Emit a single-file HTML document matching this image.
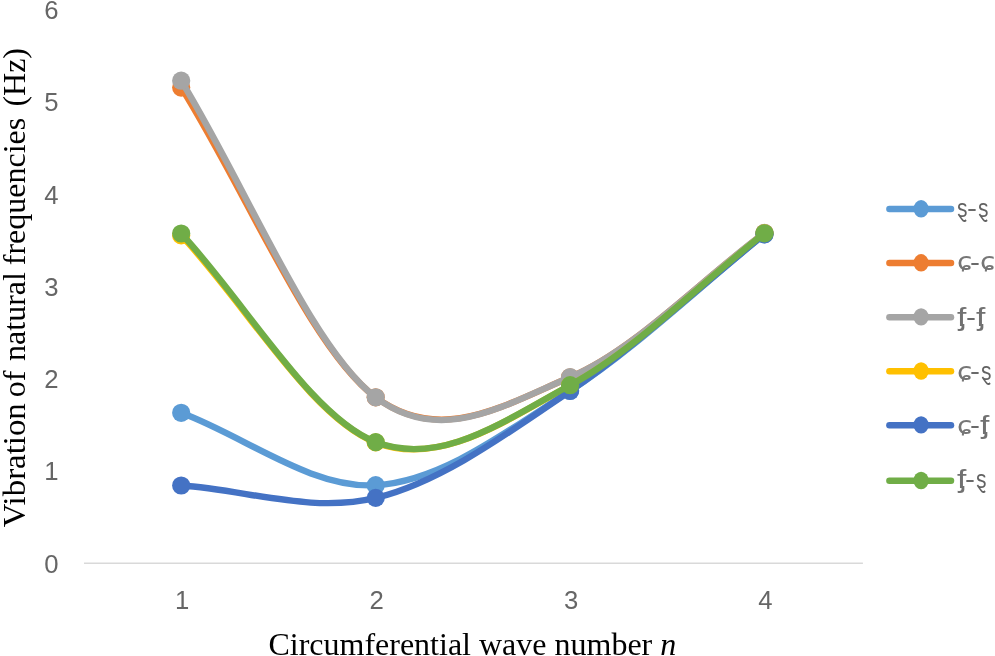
<!DOCTYPE html>
<html lang="en"><head><meta charset="utf-8"><title>Vibration of natural frequencies</title>
<style>
html,body{margin:0;padding:0;background:#fff;}
body{width:995px;height:656px;overflow:hidden;position:relative;}
svg{display:block;}
.ax{font-family:"Liberation Sans",sans-serif;font-size:25.7px;fill:#666;}
.lgd{position:absolute;left:0;top:0;white-space:nowrap;color:#6a6a6a;}
.lgd span{position:absolute;display:block;line-height:0;transform-origin:0 0;}
.lgd .ls{font-family:"Liberation Sans",sans-serif;font-size:25.5px;}
.lgd .f{color:#717171;}
.lgd .s{color:#626262;}
.lgd .dv{font-family:"DejaVu Sans","Liberation Sans",sans-serif;font-size:25px;color:#767676;}
.tt{font-family:"Liberation Serif",serif;font-size:32px;fill:#000;}
</style></head><body>
<svg width="995" height="656" viewBox="0 0 995 656">
<rect width="995" height="656" fill="#fff"/>
<line x1="84" y1="563.3" x2="862.9" y2="563.3" stroke="#D9D9D9" stroke-width="1.6"/>
<text class="ax" x="51.3" y="572.6" text-anchor="middle">0</text>
<text class="ax" x="51.3" y="480.3" text-anchor="middle">1</text>
<text class="ax" x="51.3" y="388.1" text-anchor="middle">2</text>
<text class="ax" x="51.3" y="295.8" text-anchor="middle">3</text>
<text class="ax" x="51.3" y="203.5" text-anchor="middle">4</text>
<text class="ax" x="51.3" y="111.3" text-anchor="middle">5</text>
<text class="ax" x="51.3" y="19.0" text-anchor="middle">6</text>
<text class="ax" x="182.2" y="609.1" text-anchor="middle">1</text>
<text class="ax" x="376.7" y="609.1" text-anchor="middle">2</text>
<text class="ax" x="571.1" y="609.1" text-anchor="middle">3</text>
<text class="ax" x="765.5" y="609.1" text-anchor="middle">4</text>
<text class="tt" transform="translate(25.3 527.2) rotate(-90)" y="0"><tspan x="0.0" textLength="124" lengthAdjust="spacingAndGlyphs">Vibration</tspan> <tspan x="130.0">of</tspan> <tspan x="166.3">natural</tspan> <tspan x="262.0">frequencies</tspan> <tspan x="420.6">(Hz)</tspan></text>
<text class="tt" x="268.4" y="655">Circumferential wave number <tspan font-style="italic">n</tspan></text>
<g fill="#5B9BD5" stroke="none"><path d="M181.20 412.80 C246.03 436.93 310.88 488.87 375.70 485.20 C440.52 481.53 505.30 432.62 570.10 390.80 C634.90 348.98 699.70 286.47 764.50 234.30" fill="none" stroke="#5B9BD5" stroke-width="6.4" stroke-linecap="round" stroke-linejoin="round"/><circle cx="181.2" cy="412.8" r="9.1"/><circle cx="375.7" cy="485.2" r="9.1"/><circle cx="570.1" cy="390.8" r="9.1"/><circle cx="764.5" cy="234.3" r="9.1"/></g>
<g fill="#ED7D31" stroke="none"><path d="M181.20 87.60 C246.03 190.83 310.88 349.02 375.70 397.30 C440.52 445.58 505.30 404.68 570.10 377.30 C634.90 349.92 699.70 281.10 764.50 233.00" fill="none" stroke="#ED7D31" stroke-width="6.4" stroke-linecap="round" stroke-linejoin="round"/><circle cx="181.2" cy="87.6" r="9.1"/><circle cx="375.7" cy="397.3" r="9.1"/><circle cx="570.1" cy="377.3" r="9.1"/><circle cx="764.5" cy="233.0" r="9.1"/></g>
<g fill="#A5A5A5" stroke="none"><path d="M181.20 80.70 C246.03 186.23 310.88 347.88 375.70 397.30 C440.52 446.72 505.30 404.60 570.10 377.20 C634.90 349.80 699.70 281.00 764.50 232.90" fill="none" stroke="#A5A5A5" stroke-width="6.4" stroke-linecap="round" stroke-linejoin="round"/><circle cx="181.2" cy="80.7" r="9.1"/><circle cx="375.7" cy="397.3" r="9.1"/><circle cx="570.1" cy="377.2" r="9.1"/><circle cx="764.5" cy="232.9" r="9.1"/></g>
<g fill="#FFC000" stroke="none"><path d="M181.20 235.40 C246.03 304.40 310.88 417.38 375.70 442.40 C440.52 467.42 505.30 420.33 570.10 385.50 C634.90 350.67 699.70 284.10 764.50 233.40" fill="none" stroke="#FFC000" stroke-width="6.4" stroke-linecap="round" stroke-linejoin="round"/><circle cx="181.2" cy="235.4" r="9.1"/><circle cx="375.7" cy="442.4" r="9.1"/><circle cx="570.1" cy="385.5" r="9.1"/><circle cx="764.5" cy="233.4" r="9.1"/></g>
<g fill="#4472C4" stroke="none"><path d="M181.20 485.50 C246.03 489.63 310.88 513.65 375.70 497.90 C440.52 482.15 505.30 434.93 570.10 391.00 C634.90 347.07 699.70 286.53 764.50 234.30" fill="none" stroke="#4472C4" stroke-width="6.4" stroke-linecap="round" stroke-linejoin="round"/><circle cx="181.2" cy="485.5" r="9.1"/><circle cx="375.7" cy="497.9" r="9.1"/><circle cx="570.1" cy="391.0" r="9.1"/><circle cx="764.5" cy="234.3" r="9.1"/></g>
<g fill="#70AD47" stroke="none"><path d="M181.20 233.50 C246.03 303.03 310.88 416.82 375.70 442.10 C440.52 467.38 505.30 420.00 570.10 385.20 C634.90 350.40 699.70 283.93 764.50 233.30" fill="none" stroke="#70AD47" stroke-width="6.4" stroke-linecap="round" stroke-linejoin="round"/><circle cx="181.2" cy="233.5" r="9.1"/><circle cx="375.7" cy="442.1" r="9.1"/><circle cx="570.1" cy="385.2" r="9.1"/><circle cx="764.5" cy="233.3" r="9.1"/></g>
<g fill="#5B9BD5"><line x1="889.4" y1="209.1" x2="951" y2="209.1" stroke="#5B9BD5" stroke-width="6.5" stroke-linecap="round"/><ellipse cx="921.1" cy="208.8" rx="7.6" ry="8.7"/></g><g fill="#ED7D31"><line x1="889.4" y1="263.1" x2="951" y2="263.1" stroke="#ED7D31" stroke-width="6.5" stroke-linecap="round"/><ellipse cx="921.1" cy="262.8" rx="7.6" ry="8.7"/></g><g fill="#A5A5A5"><line x1="889.4" y1="317.2" x2="951" y2="317.2" stroke="#A5A5A5" stroke-width="6.5" stroke-linecap="round"/><ellipse cx="921.1" cy="316.9" rx="7.6" ry="8.7"/></g><g fill="#FFC000"><line x1="889.4" y1="371.3" x2="951" y2="371.3" stroke="#FFC000" stroke-width="6.5" stroke-linecap="round"/><ellipse cx="921.1" cy="371.0" rx="7.6" ry="8.7"/></g><g fill="#4472C4"><line x1="889.4" y1="425.2" x2="951" y2="425.2" stroke="#4472C4" stroke-width="6.5" stroke-linecap="round"/><ellipse cx="921.1" cy="424.9" rx="7.6" ry="8.7"/></g><g fill="#70AD47"><line x1="889.4" y1="480.8" x2="951" y2="480.8" stroke="#70AD47" stroke-width="6.5" stroke-linecap="round"/><ellipse cx="921.1" cy="480.5" rx="7.6" ry="8.7"/></g></svg>
<div class="lgd"><span class="ls s" style="left:957.06px;top:207.78px;transform:scaleX(0.82)">ȿ</span><span class="ls" style="left:967.41px;top:207.78px;transform:scaleX(1.17)">-</span><span class="ls s" style="left:977.56px;top:207.78px;transform:scaleX(0.82)">ȿ</span></div>
<div class="lgd"><span class="dv" style="left:956.72px;top:261.85px;transform:scaleX(1.12)">ɕ</span><span class="ls" style="left:970.11px;top:261.68px;transform:scaleX(1.17)">-</span><span class="dv" style="left:979.72px;top:261.85px;transform:scaleX(1.12)">ɕ</span></div>
<div class="lgd"><span class="ls f" style="left:956.86px;top:317.38px;transform:scaleX(1.32)">ᶂ</span><span class="ls" style="left:965.61px;top:317.38px;transform:scaleX(1.17)">-</span><span class="ls f" style="left:975.56px;top:317.38px;transform:scaleX(1.32)">ᶂ</span></div>
<div class="lgd"><span class="dv" style="left:956.72px;top:371.55px;transform:scaleX(1.12)">ɕ</span><span class="ls" style="left:970.11px;top:371.38px;transform:scaleX(1.17)">-</span><span class="ls s" style="left:980.56px;top:371.38px;transform:scaleX(0.82)">ȿ</span></div>
<div class="lgd"><span class="dv" style="left:956.72px;top:425.55px;transform:scaleX(1.12)">ɕ</span><span class="ls" style="left:970.11px;top:425.38px;transform:scaleX(1.17)">-</span><span class="ls f" style="left:979.86px;top:425.38px;transform:scaleX(1.32)">ᶂ</span></div>
<div class="lgd"><span class="ls f" style="left:956.76px;top:479.28px;transform:scaleX(1.32)">ᶂ</span><span class="ls" style="left:965.21px;top:479.28px;transform:scaleX(1.17)">-</span><span class="ls s" style="left:975.96px;top:479.28px;transform:scaleX(0.82)">ȿ</span></div>
</body></html>
